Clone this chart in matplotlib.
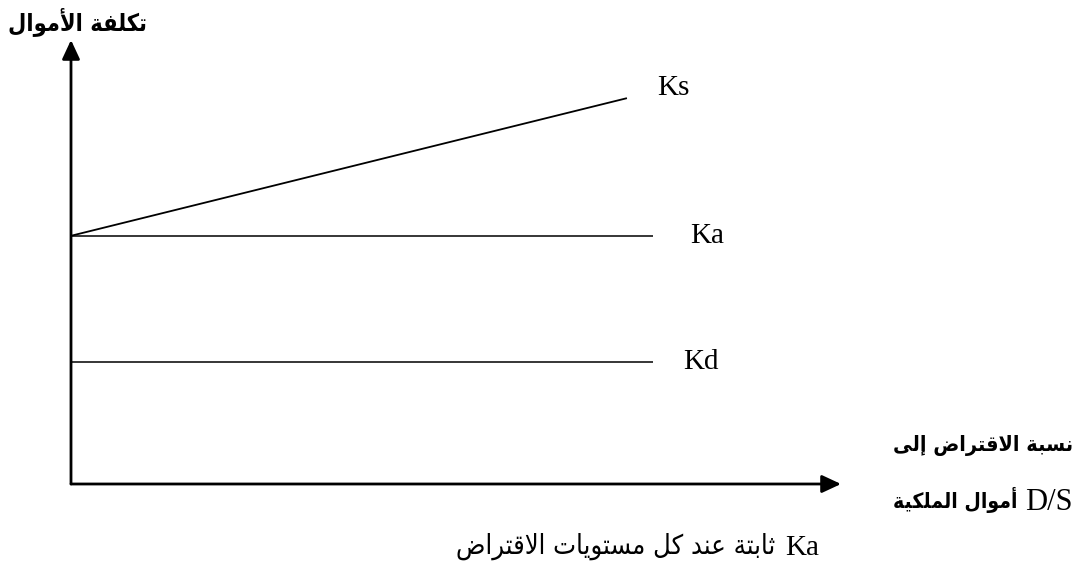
import matplotlib
matplotlib.use("Agg")
import matplotlib.pyplot as plt

# D/S ratio on x, cost of funds on y (both on a 0..10 scale)
ks_ratio = [0, 7.22]
ks_cost = [5.59, 8.69]
ka_ratio = [0, 7.56]
ka_cost = [5.59, 5.59]
kd_ratio = [0, 7.56]
kd_cost = [2.75, 2.75]
series_names = ["Ks", "Ka", "Kd"]

y_title = "تكلفة الأموال"
x_title_1 = "نسبة الاقتراض إلى"
x_title_2 = "أموال الملكية"
x_title_2_latin = "D/S"
caption = "ثابتة عند كل مستويات الاقتراض"
caption_latin = "Ka"

# matplotlib does no Arabic shaping, so map letters to presentation forms
AR_FORMS = {
    "ا": "\uFE8D\uFE8E", "أ": "\uFE83\uFE84", "إ": "\uFE87\uFE88",
    "ة": "\uFE93\uFE94", "د": "\uFEA9\uFEAA", "ر": "\uFEAD\uFEAE",
    "و": "\uFEED\uFEEE", "ى": "\uFEEF\uFEF0",
    "ب": "\uFE8F\uFE90\uFE91\uFE92", "ت": "\uFE95\uFE96\uFE97\uFE98",
    "ث": "\uFE99\uFE9A\uFE9B\uFE9C", "س": "\uFEB1\uFEB2\uFEB3\uFEB4",
    "ض": "\uFEBD\uFEBE\uFEBF\uFEC0", "ع": "\uFEC9\uFECA\uFECB\uFECC",
    "ف": "\uFED1\uFED2\uFED3\uFED4", "ق": "\uFED5\uFED6\uFED7\uFED8",
    "ك": "\uFED9\uFEDA\uFEDB\uFEDC", "ل": "\uFEDD\uFEDE\uFEDF\uFEE0",
    "م": "\uFEE1\uFEE2\uFEE3\uFEE4", "ن": "\uFEE5\uFEE6\uFEE7\uFEE8",
    "ي": "\uFEF1\uFEF2\uFEF3\uFEF4",
}
LAM_ALEF = {"ا": "\uFEFB\uFEFC", "أ": "\uFEF7\uFEF8", "إ": "\uFEF9\uFEFA"}


def ar(text):
    out = []
    prev_joins = False
    i = 0
    while i < len(text):
        c = text[i]
        if c not in AR_FORMS:
            out.append(c)
            prev_joins = False
            i += 1
            continue
        if c == "ل" and i + 1 < len(text) and text[i + 1] in LAM_ALEF:
            forms = LAM_ALEF[text[i + 1]]
            out.append(forms[1] if prev_joins else forms[0])
            prev_joins = False
            i += 2
            continue
        forms = AR_FORMS[c]
        nxt = text[i + 1] if i + 1 < len(text) else ""
        next_joins = len(forms) == 4 and nxt in AR_FORMS
        if prev_joins and next_joins:
            g = forms[3]
        elif prev_joins:
            g = forms[1]
        elif next_joins:
            g = forms[2]
        else:
            g = forms[0]
        out.append(g)
        prev_joins = len(forms) == 4
        i += 1
    return "".join(out)[::-1]


W, H = 1086, 569
fig = plt.figure(figsize=(W / 100, H / 100), dpi=100)
fig.patch.set_facecolor("white")
ax = fig.add_axes([71 / W, 1 - 484 / H, 770 / W, 444 / H])
ax.set_xlim(0, 10)
ax.set_ylim(0, 10)
ax.axis("off")

arrow = dict(arrowstyle="-|>,head_length=0.58,head_width=0.27", color="black",
             lw=2.0, shrinkA=0, shrinkB=0, mutation_scale=20)
ax.annotate("", xy=(10, 0), xytext=(0, 0), arrowprops=arrow, annotation_clip=False)
ax.annotate("", xy=(0, 10), xytext=(0, 0), arrowprops=arrow, annotation_clip=False)

ax.plot(ks_ratio, ks_cost, color="black", lw=1.3, solid_capstyle="butt")
ax.plot(ka_ratio, ka_cost, color="black", lw=1.1, solid_capstyle="butt")
ax.plot(kd_ratio, kd_cost, color="black", lw=1.1, solid_capstyle="butt")

serif = ["Liberation Serif", "DejaVu Serif"]
offsets = [(30, 3), (37, -7), (30, -7)]
ends = [(ks_ratio[-1], ks_cost[-1]), (ka_ratio[-1], ka_cost[-1]), (kd_ratio[-1], kd_cost[-1])]
for name, end, off in zip(series_names, ends, offsets):
    ax.annotate(name, xy=end, xytext=off, textcoords="offset pixels",
                ha="left", va="baseline", fontsize=21, family=serif)

renderer = fig.canvas.get_renderer()


def fit_text(x_px, y_px, s, width_px, ha, **kw):
    t = fig.text(x_px / W, 1 - y_px / H, s, ha=ha, va="center", **kw)
    w = t.get_window_extent(renderer).width
    t.set_fontsize(t.get_fontsize() * width_px / w)
    return t


arabic = ["DejaVu Sans"]
fit_text(147, 22, ar(y_title), 139, "right", family=arabic, weight="bold",
         stretch="condensed")
fit_text(893, 446, ar(x_title_1), 180, "left", family=arabic, weight="bold",
         stretch="condensed")
fit_text(893, 500, ar(x_title_2), 124, "left", family=arabic, weight="bold",
         stretch="condensed")
fig.text(1025 / W, 1 - 510 / H, x_title_2_latin, ha="left", va="baseline",
         fontsize=22, family=serif)
fit_text(775, 546, ar(caption), 318, "right", family=arabic, stretch="condensed")
fig.text(785 / W, 1 - 555 / H, caption_latin, ha="left", va="baseline",
         fontsize=21, family=serif)

fig.savefig("out.png", dpi=100, facecolor="white")
